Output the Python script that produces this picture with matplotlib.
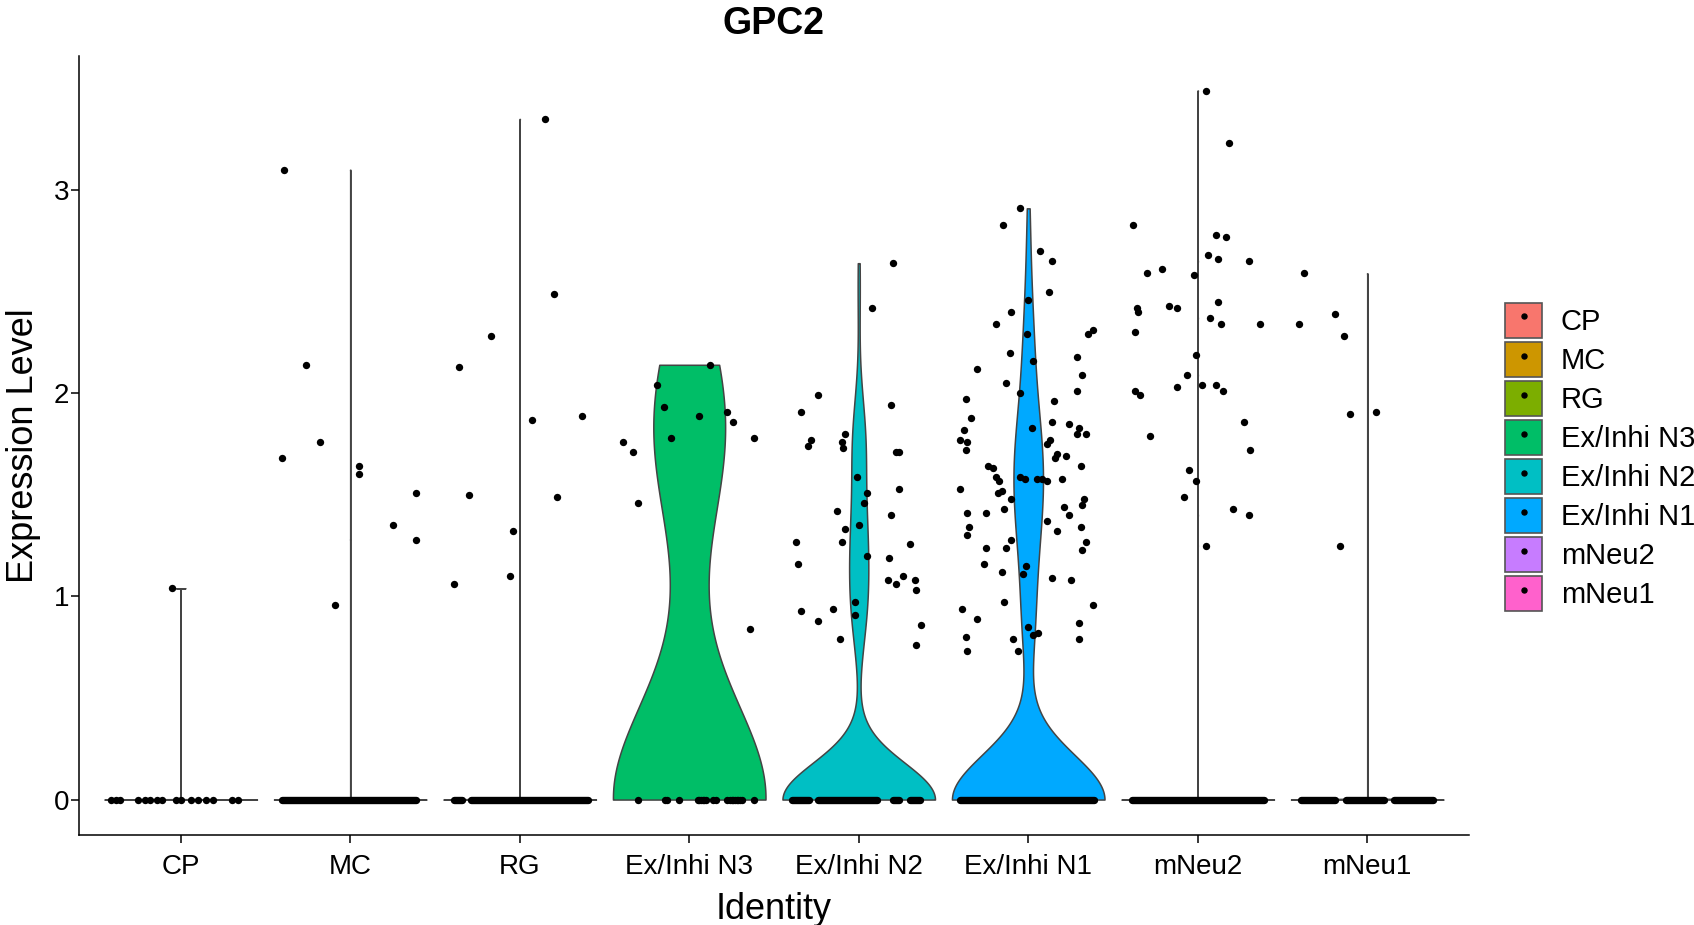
import numpy as np
import matplotlib
matplotlib.use("Agg")
import matplotlib.pyplot as plt
from matplotlib.patches import Patch
from matplotlib.lines import Line2D

plt.rcParams['font.family'] = ['Liberation Sans', 'DejaVu Sans']

groups = ["CP", "MC", "RG", "Ex/Inhi N3", "Ex/Inhi N2", "Ex/Inhi N1", "mNeu2", "mNeu1"]
colors = ["#F8766D", "#CD9600", "#7CAE00", "#00BE67", "#00BFC4", "#00A9FF", "#C77CFF", "#FF61CC"]

# cells with zero expression per identity
n_zero = [16, 400, 450, 22, 120, 190, 380, 300]
# kde bandwidth per identity (tiny where the violin collapses to a line)
bandwidth = [1e-4, 1e-4, 1e-4, 0.47, 0.18, 0.22, 1e-4, 1e-4]

# non-zero cells: expression level and horizontal jitter
cp_expr = [1.04]
cp_jit = [-0.05]
mc_expr = [3.10, 2.14, 1.76, 1.68, 1.64, 1.60, 1.51, 1.35, 1.28, 0.96]
mc_jit = [-0.39, -0.26, -0.18, -0.40, 0.05, 0.05, 0.39, 0.25, 0.39, -0.09]
rg_expr = [3.35, 2.49, 2.28, 2.13, 1.87, 1.89, 1.50, 1.49, 1.32, 1.10, 1.06]
rg_jit = [0.15, 0.20, -0.17, -0.36, 0.07, 0.37, -0.30, 0.22, -0.04, -0.06, -0.39]
n3_expr = [2.14, 2.04, 1.93, 1.89, 1.91, 1.86, 1.78, 1.78, 1.76, 1.71, 1.46, 0.84]
n3_jit = [0.12, -0.19, -0.15, 0.06, 0.22, 0.26, -0.11, 0.38, -0.39, -0.33, -0.30, 0.36]
n2_expr = [2.64, 2.42, 1.99, 1.91, 1.94, 1.80, 1.77, 1.74, 1.76, 1.73, 1.71, 1.71,
           1.59, 1.53, 1.51, 1.46, 1.42, 1.40, 1.35, 1.33, 1.27, 1.27, 1.26, 1.20,
           1.19, 1.16, 1.10, 1.08, 1.06, 1.08, 1.03, 0.97, 0.91, 0.93, 0.94, 0.88,
           0.86, 0.79, 0.76]
n2_jit = [0.20, 0.08, -0.24, -0.34, 0.19, -0.08, -0.28, -0.30, -0.10, -0.09, 0.22, 0.24,
          -0.01, 0.24, 0.05, 0.03, -0.13, 0.19, 0.00, -0.08, -0.37, -0.10, 0.30, 0.05,
          0.18, -0.36, 0.26, 0.17, 0.22, 0.33, 0.34, -0.02, -0.02, -0.34, -0.15, -0.24,
          0.37, -0.11, 0.34]
n1_expr = [2.91, 2.83, 2.70, 2.65, 2.50, 2.46, 2.40, 2.34, 2.29, 2.29, 2.31, 2.20,
           2.18, 2.16, 2.12, 2.09, 2.05, 2.01, 2.00, 1.97, 1.96, 1.88, 1.83, 1.86,
           1.85, 1.83, 1.80, 1.80, 1.82, 1.77, 1.76, 1.72, 1.77, 1.75, 1.70, 1.68,
           1.69, 1.64, 1.64, 1.63, 1.59, 1.57, 1.59, 1.58, 1.58, 1.58, 1.57, 1.58,
           1.53, 1.51, 1.52, 1.48, 1.48, 1.45, 1.44, 1.41, 1.41, 1.43, 1.40, 1.37,
           1.34, 1.30, 1.34, 1.32, 1.28, 1.27, 1.24, 1.24, 1.23, 1.16, 1.15, 1.11,
           1.12, 1.09, 1.08, 0.97, 0.96, 0.94, 0.89, 0.87, 0.85, 0.81, 0.82, 0.80,
           0.79, 0.79, 0.73, 0.73]
n1_jit = [-0.05, -0.15, 0.07, 0.14, 0.12, 0.00, -0.10, -0.19, -0.01, 0.35, 0.38, -0.11,
          0.29, 0.03, -0.30, 0.32, -0.13, 0.29, -0.05, -0.37, 0.15, -0.34, 0.02, 0.14,
          0.24, 0.30, 0.29, 0.34, -0.38, -0.40, -0.36, -0.37, 0.13, 0.11, 0.17, 0.16,
          0.22, 0.31, -0.24, -0.21, -0.19, -0.17, -0.05, -0.02, 0.05, 0.08, 0.11, 0.20,
          -0.40, -0.18, -0.155, -0.10, 0.33, 0.32, 0.21, -0.36, -0.25, -0.14, 0.24, 0.11,
          -0.35, -0.36, 0.31, 0.17, -0.10, 0.34, -0.25, -0.13, 0.32, -0.26, -0.015, -0.03,
          -0.155, 0.14, 0.25, -0.145, 0.38, -0.39, -0.30, 0.30, 0.00, 0.03, 0.06, -0.37,
          -0.09, 0.30, -0.36, -0.06]
mneu2_expr = [3.49, 3.23, 2.83, 2.78, 2.77, 2.68, 2.66, 2.65, 2.59, 2.61, 2.58, 2.42,
              2.40, 2.43, 2.42, 2.45, 2.37, 2.34, 2.34, 2.30, 2.19, 2.09, 2.03, 2.04,
              2.04, 2.01, 2.01, 1.99, 1.86, 1.79, 1.72, 1.62, 1.57, 1.49, 1.43, 1.40,
              1.25]
mneu2_jit = [0.05, 0.185, -0.38, 0.11, 0.165, 0.06, 0.12, 0.30, -0.30, -0.21, -0.02, -0.36,
             -0.35, -0.17, -0.12, 0.12, 0.07, 0.14, 0.37, -0.37, -0.01, -0.065, -0.12, 0.025,
             0.11, 0.15, -0.37, -0.34, 0.275, -0.28, 0.31, -0.05, -0.01, -0.08, 0.21, 0.30,
             0.05]
mneu1_expr = [2.59, 2.34, 2.39, 2.28, 1.90, 1.91, 1.25]
mneu1_jit = [-0.375, -0.40, -0.19, -0.14, -0.10, 0.05, -0.16]

# zero-valued cells: single dots where they are sparse ...
cp_zero_jit = [-0.41, -0.38, -0.36, -0.25, -0.21, -0.18, -0.14, -0.11, -0.03, 0.0,
               0.06, 0.10, 0.15, 0.19, 0.30, 0.34]
n3_zero_jit = [-0.30, -0.14, -0.13, -0.06, 0.05, 0.06, 0.07, 0.08, 0.09, 0.10,
               0.14, 0.16, 0.22, 0.24, 0.25, 0.26, 0.27, 0.28, 0.29, 0.30,
               0.31, 0.38]
# ... and solid runs of overlapping dots where they are dense
mc_zero_runs = [(-0.40, 0.39)]
rg_zero_runs = [(-0.39, -0.34), (-0.285, 0.40)]
n2_zero_runs = [(-0.395, -0.295), (-0.24, 0.106), (0.155, 0.155), (0.20, 0.235), (0.30, 0.36)]
n1_zero_runs = [(-0.40, 0.39)]
mneu2_zero_runs = [(-0.39, 0.39)]
mneu1_zero_runs = [(-0.39, -0.19), (-0.125, 0.10), (0.16, 0.39)]

expr = [cp_expr, mc_expr, rg_expr, n3_expr, n2_expr, n1_expr, mneu2_expr, mneu1_expr]
jit = [cp_jit, mc_jit, rg_jit, n3_jit, n2_jit, n1_jit, mneu2_jit, mneu1_jit]
zero_dots = [cp_zero_jit, None, None, n3_zero_jit, None, None, None, None]
zero_runs = [None, mc_zero_runs, rg_zero_runs, None, n2_zero_runs, n1_zero_runs,
             mneu2_zero_runs, mneu1_zero_runs]


fig = plt.figure(figsize=(16.94, 9.25), dpi=100)
ax = fig.add_axes([0.04664, 0.0974, 0.8205, 0.8421])

for i, g in enumerate(groups):
    pos = i + 1
    values = np.concatenate([np.array(expr[i], dtype=float), np.zeros(n_zero[i])])
    factor = bandwidth[i] / np.std(values, ddof=1)
    parts = ax.violinplot([values], positions=[pos], widths=0.9, showextrema=False,
                          points=512, bw_method=factor)
    body = parts['bodies'][0]
    body.set_facecolor(colors[i])
    body.set_edgecolor('#444444')
    body.set_linewidth(1.1)
    body.set_alpha(1)
    body.set_zorder(1)

    # jittered cells
    ax.scatter(pos + np.array(jit[i]), expr[i], s=28, color='black', zorder=3, linewidths=0)
    if zero_dots[i] is not None:
        ax.scatter(pos + np.array(zero_dots[i]), np.zeros(len(zero_dots[i])), s=28,
                   color='black', zorder=3, linewidths=0)
    if zero_runs[i] is not None:
        for a, b in zero_runs[i]:
            ax.hlines(0, pos + a, pos + b, colors='black', linewidth=5.3,
                      capstyle='round', zorder=3)

ax.set_xlim(0.4, 8.6)
ax.set_ylim(-0.174, 3.66)
ax.set_xticks(range(1, 9))
ax.set_xticklabels(groups)
ax.set_yticks([0, 1, 2, 3])
for s in ['top', 'right']:
    ax.spines[s].set_visible(False)
for s in ['left', 'bottom']:
    ax.spines[s].set_linewidth(1.1)
ax.tick_params(axis='both', length=5.5, width=1.1, labelsize=20, colors='black')
ax.tick_params(axis='x', pad=8)
ax.tick_params(axis='y', pad=1.5)

ax.set_xlabel('Identity', fontsize=26, labelpad=9)
ax.set_ylabel('Expression Level', fontsize=26, labelpad=9)
ax.set_title('GPC2', fontsize=27, fontweight='bold', pad=16)

handles = []
for c in colors:
    handles.append((Patch(facecolor=c, edgecolor='#555555', linewidth=1.2),
                    Line2D([], [], marker='o', color='black', linestyle='None', markersize=3.6)))
fig.legend(handles, groups, loc='upper left', bbox_to_anchor=(1505 / 1694, 1 - 303 / 925),
           bbox_transform=fig.transFigure, frameon=False, fontsize=21,
           handlelength=1.27, handleheight=1.45, labelspacing=0.15, handletextpad=0.64,
           borderpad=0, borderaxespad=0)

fig.savefig('out.png', dpi=100)
